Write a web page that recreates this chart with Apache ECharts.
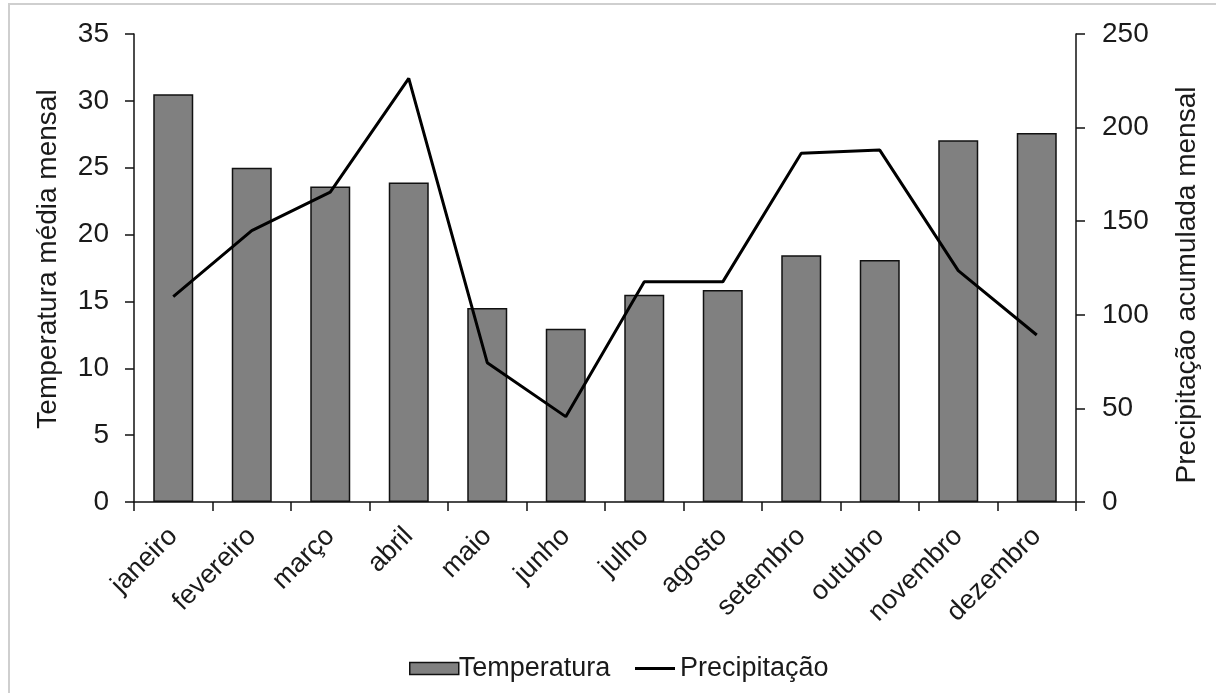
<!DOCTYPE html>
<html>
<head>
<meta charset="utf-8">
<script src="https://cdn.jsdelivr.net/npm/echarts@6/dist/echarts.min.js"></script>
<style>
html,body{margin:0;padding:0;background:#fff;}
#chart{width:1216px;height:693px;}
</style>
</head>
<body>
<div id="chart"></div>
<script>
const months = ['janeiro','fevereiro','março','abril','maio','junho','julho','agosto','setembro','outubro','novembro','dezembro'];
const temperatura = [30.5, 25.0, 23.6, 23.9, 14.5, 12.95, 15.5, 15.85, 18.45, 18.1, 27.05, 27.6];
const precipitacao = [109.7, 145, 165.5, 226.3, 74.4, 45.6, 117.7, 117.6, 186.3, 188, 123.6, 89.2];
const leftTicks = {min: 0, max: 35, interval: 5};
const rightTicks = {min: 0, max: 250, interval: 50};

const FONT = '"Liberation Sans", Arial, sans-serif';
const TXT = '#1a1a1a';
const chart = echarts.init(document.getElementById('chart'));
chart.setOption({
  animation: false,
  backgroundColor: '#fff',
  textStyle: {fontFamily: FONT},
  graphic: [{
    type: 'rect', shape: {x: 9, y: 4, width: 1400, height: 900},
    style: {fill: 'none', stroke: '#cfcfcf', lineWidth: 2}, silent: true
  }],
  grid: {left: 134, right: 140, top: 34, bottom: 191},
  legend: [{
    left: 404, top: 650,
    itemWidth: 49, itemHeight: 12, itemGap: 26,
    textStyle: {fontFamily: FONT, fontSize: 27, color: TXT, padding: [0, 0, 0, -5]},
    data: [
      {name: 'Temperatura', icon: 'rect', itemStyle: {color: '#808080', borderColor: '#111', borderWidth: 1.5}}
    ]
  }, {
    left: 630, top: 650,
    itemWidth: 40, itemHeight: 3,
    textStyle: {fontFamily: FONT, fontSize: 27, color: TXT, padding: [0, 0, 0, 0]},
    data: [
      {name: 'Precipitação', icon: 'rect', itemStyle: {color: '#000', borderWidth: 0}}
    ]
  }],
  xAxis: {
    type: 'category', data: months, boundaryGap: true,
    axisLine: {lineStyle: {color: '#111', width: 1.5}},
    axisTick: {show: true, interval: 0, length: 9, lineStyle: {color: '#111', width: 1.5}},
    axisLabel: {interval: 0, rotate: 45, fontSize: 27, color: TXT, margin: 30, fontFamily: FONT}
  },
  yAxis: [{
    type: 'value', min: leftTicks.min, max: leftTicks.max, interval: leftTicks.interval,
    position: 'left',
    name: 'Temperatura média mensal', nameLocation: 'middle', nameGap: 72, nameRotate: 90,
    nameTextStyle: {fontSize: 28, color: TXT, fontFamily: FONT, padding: [0, 0, 0, 18]},
    axisLine: {show: true, lineStyle: {color: '#111', width: 1.5}},
    axisTick: {show: true, length: 9, lineStyle: {color: '#111', width: 1.5}},
    axisLabel: {fontSize: 28, color: TXT, margin: 25, fontFamily: FONT},
    splitLine: {show: false}
  }, {
    type: 'value', min: rightTicks.min, max: rightTicks.max, interval: rightTicks.interval,
    position: 'right',
    name: 'Precipitação acumulada mensal', nameLocation: 'middle', nameGap: 97, nameRotate: 90,
    nameTextStyle: {fontSize: 28, color: TXT, fontFamily: FONT, padding: [0, 34, 0, 0]},
    axisLine: {show: true, lineStyle: {color: '#111', width: 1.5}},
    axisTick: {show: true, length: 9, lineStyle: {color: '#111', width: 1.5}},
    axisLabel: {fontSize: 28, color: TXT, margin: 26, fontFamily: FONT},
    splitLine: {show: false}
  }],
  series: [{
    name: 'Temperatura', type: 'bar', data: temperatura, yAxisIndex: 0,
    barWidth: 40,
    itemStyle: {color: '#808080', borderColor: '#111', borderWidth: 1.5}
  }, {
    name: 'Precipitação', type: 'line', data: precipitacao, yAxisIndex: 1,
    showSymbol: false, symbol: 'none',
    lineStyle: {color: '#000', width: 3}, itemStyle: {color: '#000'}
  }]
});
</script>
</body>
</html>
